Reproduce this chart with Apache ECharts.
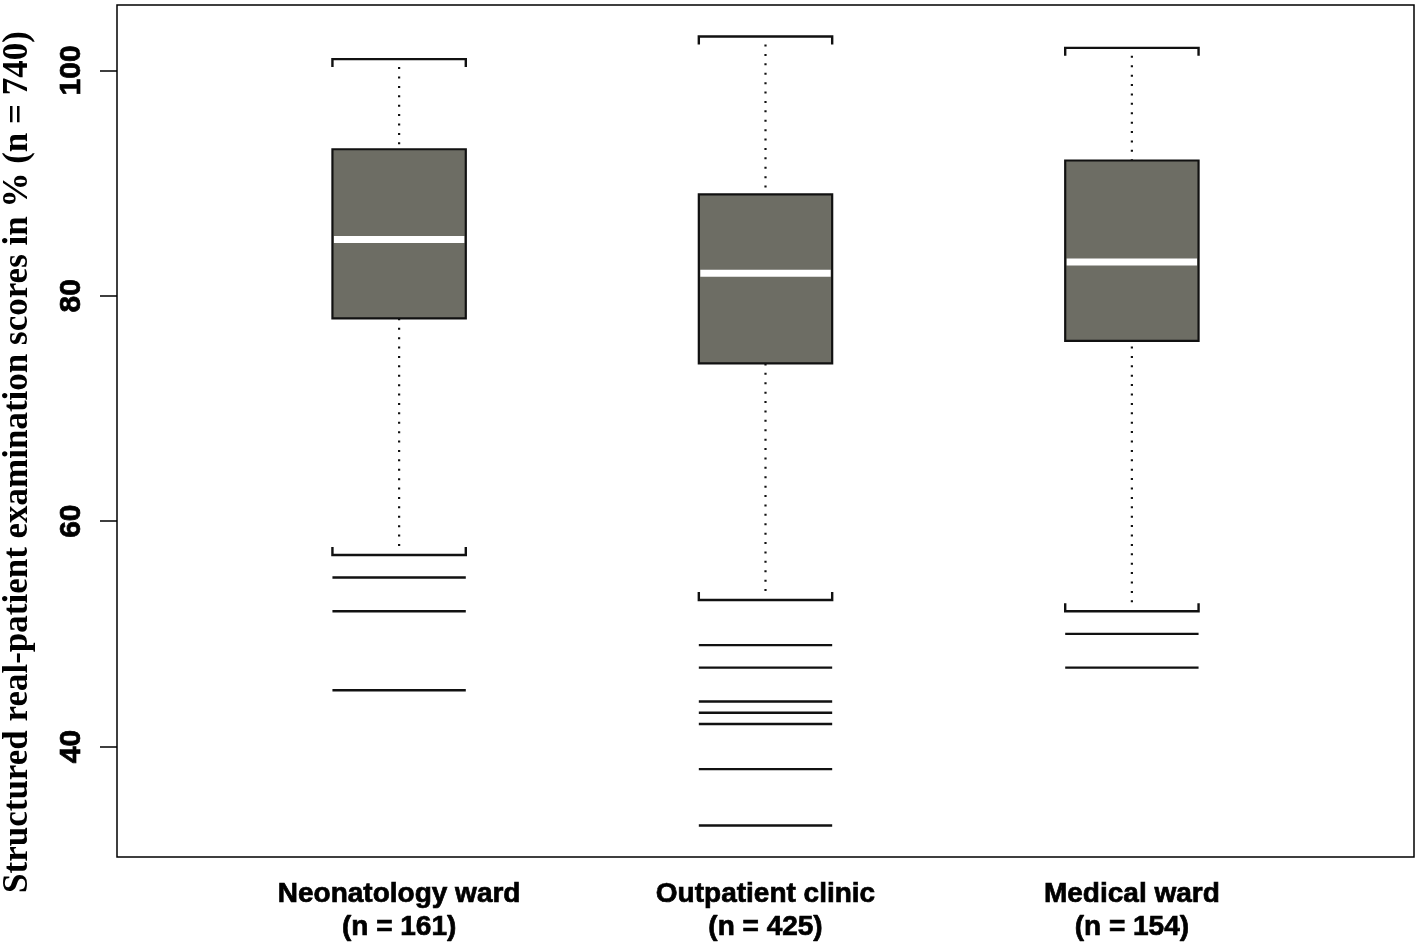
<!DOCTYPE html>
<html><head><meta charset="utf-8">
<script src="https://cdn.jsdelivr.net/npm/echarts@6/dist/echarts.min.js"></script>
<style>html,body{margin:0;padding:0;background:#fff}#c{width:1418px;height:949px}</style>
</head><body><div id="c"></div>
<script>
const categories = ['Neonatology ward\n(n = 161)', 'Outpatient clinic\n(n = 425)', 'Medical ward\n(n = 154)'];
const lowerWhisker = [57, 53, 52];
const q1 = [78, 74, 76];
const median = [85, 82, 83];
const q3 = [93, 89, 92];
const upperWhisker = [101, 103, 102];
const outliersNeonatology = [55, 52, 45];
const outliersOutpatient = [49, 47, 44, 43, 42, 38, 33];
const outliersMedical = [50, 47];
const yTicks = [40, 60, 80, 100];
const yTitle = 'Structured real-patient examination scores in % (n = 740)';

const BOX_W = 0.364;
const SANS = '"Liberation Sans", Arial, sans-serif';
const outlierGroups = [outliersNeonatology, outliersOutpatient, outliersMedical];

const boxData = categories.map((c, i) => [i + 1, lowerWhisker[i], q1[i], median[i], q3[i], upperWhisker[i]]);
const outlierData = [];
outlierGroups.forEach((g, i) => g.forEach(v => outlierData.push([i + 1, v])));

function renderBox(params, api) {
  const x = api.value(0);
  const lo = api.coord([x, api.value(1)]);
  const b1 = api.coord([x, api.value(2)]);
  const md = api.coord([x, api.value(3)]);
  const b3 = api.coord([x, api.value(4)]);
  const hi = api.coord([x, api.value(5)]);
  const w = api.size([BOX_W, 0])[0];
  const cx = lo[0], l = cx - w / 2, r = cx + w / 2;
  const tk = 8;
  const dotStyle = { stroke: '#111', lineWidth: 2.2, lineDash: [2, 7.4] };
  return { type: 'group', children: [
    { type: 'line', shape: { x1: cx, y1: hi[1] + 8, x2: cx, y2: b3[1] }, style: dotStyle },
    { type: 'line', shape: { x1: cx, y1: lo[1] - 9, x2: cx, y2: b1[1] }, style: dotStyle },
    { type: 'polyline', shape: { points: [[l, hi[1] + tk], [l, hi[1]], [r, hi[1]], [r, hi[1] + tk]] }, style: { stroke: '#111', lineWidth: 2.4, fill: null } },
    { type: 'polyline', shape: { points: [[l, lo[1] - tk], [l, lo[1]], [r, lo[1]], [r, lo[1] - tk]] }, style: { stroke: '#111', lineWidth: 2.4, fill: null } },
    { type: 'rect', shape: { x: l, y: b3[1], width: w, height: b1[1] - b3[1] }, style: { fill: '#6d6d64', stroke: '#111', lineWidth: 2.2 } },
    { type: 'line', shape: { x1: l + 1.5, y1: md[1], x2: r - 1.5, y2: md[1] }, style: { stroke: '#fff', lineWidth: 7 } }
  ]};
}

function renderOutlier(params, api) {
  const p = api.coord([api.value(0), api.value(1)]);
  const w = api.size([BOX_W, 0])[0];
  return { type: 'line', shape: { x1: p[0] - w / 2, y1: p[1], x2: p[0] + w / 2, y2: p[1] }, style: { stroke: '#111', lineWidth: 2.4 } };
}

const chart = echarts.init(document.getElementById('c'), null, { renderer: 'canvas' });
chart.setOption({
  animation: false,
  backgroundColor: '#fff',
  grid: { left: 117, right: 4, top: 5, bottom: 92, show: true, borderColor: '#000', borderWidth: 1.5, backgroundColor: 'transparent' },
  xAxis: {
    type: 'value', min: 0.23, max: 3.77,
    axisLine: { show: false }, axisTick: { show: false }, splitLine: { show: false },
    axisLabel: {
      customValues: [1, 2, 3],
      formatter: v => categories[Math.round(v) - 1],
      fontFamily: SANS, fontWeight: 'bold', fontSize: 28, lineHeight: 33, color: '#000',
      textBorderColor: '#000', textBorderWidth: 0.7, margin: 21
    }
  },
  yAxis: {
    type: 'value', min: 30.2, max: 105.8,
    axisLine: { show: false }, splitLine: { show: false },
    axisTick: { show: true, customValues: yTicks, length: 17, lineStyle: { color: '#000', width: 1.5 } },
    axisLabel: { customValues: yTicks, rotate: 90, fontFamily: SANS, fontWeight: 'bold', fontSize: 30, color: '#000',
      textBorderColor: '#000', textBorderWidth: 0.7, margin: 30 }
  },
  graphic: [{
    type: 'text', x: 18, y: 462, rotation: Math.PI / 2,
    style: { text: yTitle, fontFamily: '"Liberation Serif", "Times New Roman", serif', fontWeight: 'bold', fontSize: 35, fill: '#000', align: 'center', verticalAlign: 'middle' }
  }],
  series: [
    { type: 'custom', data: boxData, renderItem: renderBox, encode: { x: 0, y: [1, 2, 3, 4, 5] }, silent: true },
    { type: 'custom', data: outlierData, renderItem: renderOutlier, encode: { x: 0, y: 1 }, silent: true }
  ]
});
</script></body></html>
